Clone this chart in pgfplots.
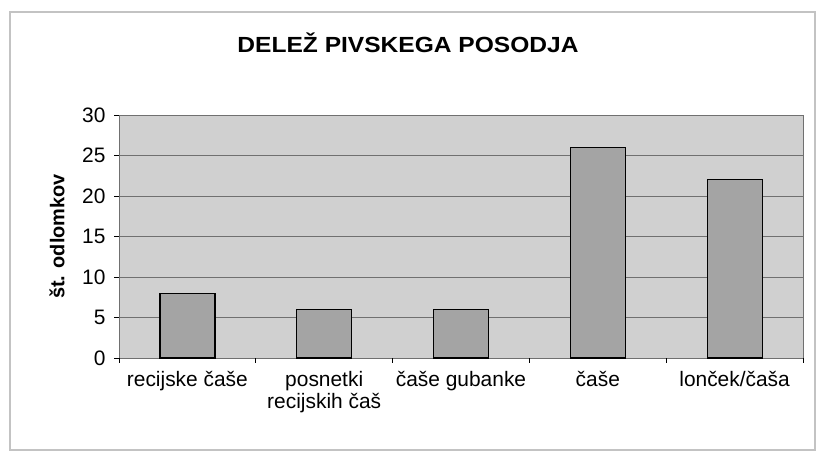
\documentclass[border=0pt]{standalone}
\usepackage{pgfplots}
\pgfplotsset{compat=1.18}
\usepackage{fontspec}
\setmainfont{Liberation Sans}
\definecolor{plotbg}{RGB}{208,208,208}
\definecolor{barfill}{RGB}{164,164,164}
\definecolor{gridc}{RGB}{112,112,112}
\definecolor{framec}{RGB}{195,195,195}
\begin{document}
\begin{tikzpicture}
\path[use as bounding box] (0,0) rectangle (819bp,451bp);
\draw[framec, line width=1.2bp] (10bp,1bp) rectangle (815bp,439bp);
\node[anchor=base, font=\fontsize{22}{24}\selectfont\bfseries, xscale=1.12] at (408bp,398bp) {DELEŽ PIVSKEGA POSODJA};
\begin{axis}[
  at={(119bp,93bp)}, anchor=south west,
  scale only axis, width=684bp, height=243bp,
  xmin=-0.5, xmax=4.5, ymin=0, ymax=30,
  ybar, bar width=55bp,
  axis background/.style={fill=plotbg},
  axis line style={gridc, line width=0.9bp},
  ytick={0,5,...,30},
  ymajorgrids, grid style={gridc, line width=0.9bp},
  tick align=outside,
  xtick pos=bottom, ytick pos=left,
  major tick length=5bp,
  tick style={black, line width=0.8bp},
  xtick={0,1,2,3,4},
  xticklabels={recijske čaše, {posnetki\\recijskih čaš}, čaše gubanke, čaše, lonček/čaša},
  x tick style={draw=none},
  extra x ticks={-0.5,0.5,1.5,2.5,3.5,4.5},
  extra x tick labels={},
  extra x tick style={grid=none, x tick style={draw=black}, major tick length=5bp, xtick pos=bottom},
  xticklabel style={font=\fontsize{21}{22}\selectfont, align=center, yshift=-5bp},
  yticklabel style={font=\fontsize{21}{22}\selectfont, xshift=-5bp},
  /pgf/number format/assume math mode=true,
  ylabel={št. odlomkov},
  every axis y label/.style={at={(-62bp,121.5bp)}, rotate=90, anchor=center, font=\fontsize{20}{22}\selectfont\bfseries},
  clip=false,
]
\addplot[fill=barfill, draw=black, line width=1.2bp] coordinates {(0,8) (1,6) (2,6) (3,26) (4,22)};
\end{axis}
\end{tikzpicture}
\end{document}
